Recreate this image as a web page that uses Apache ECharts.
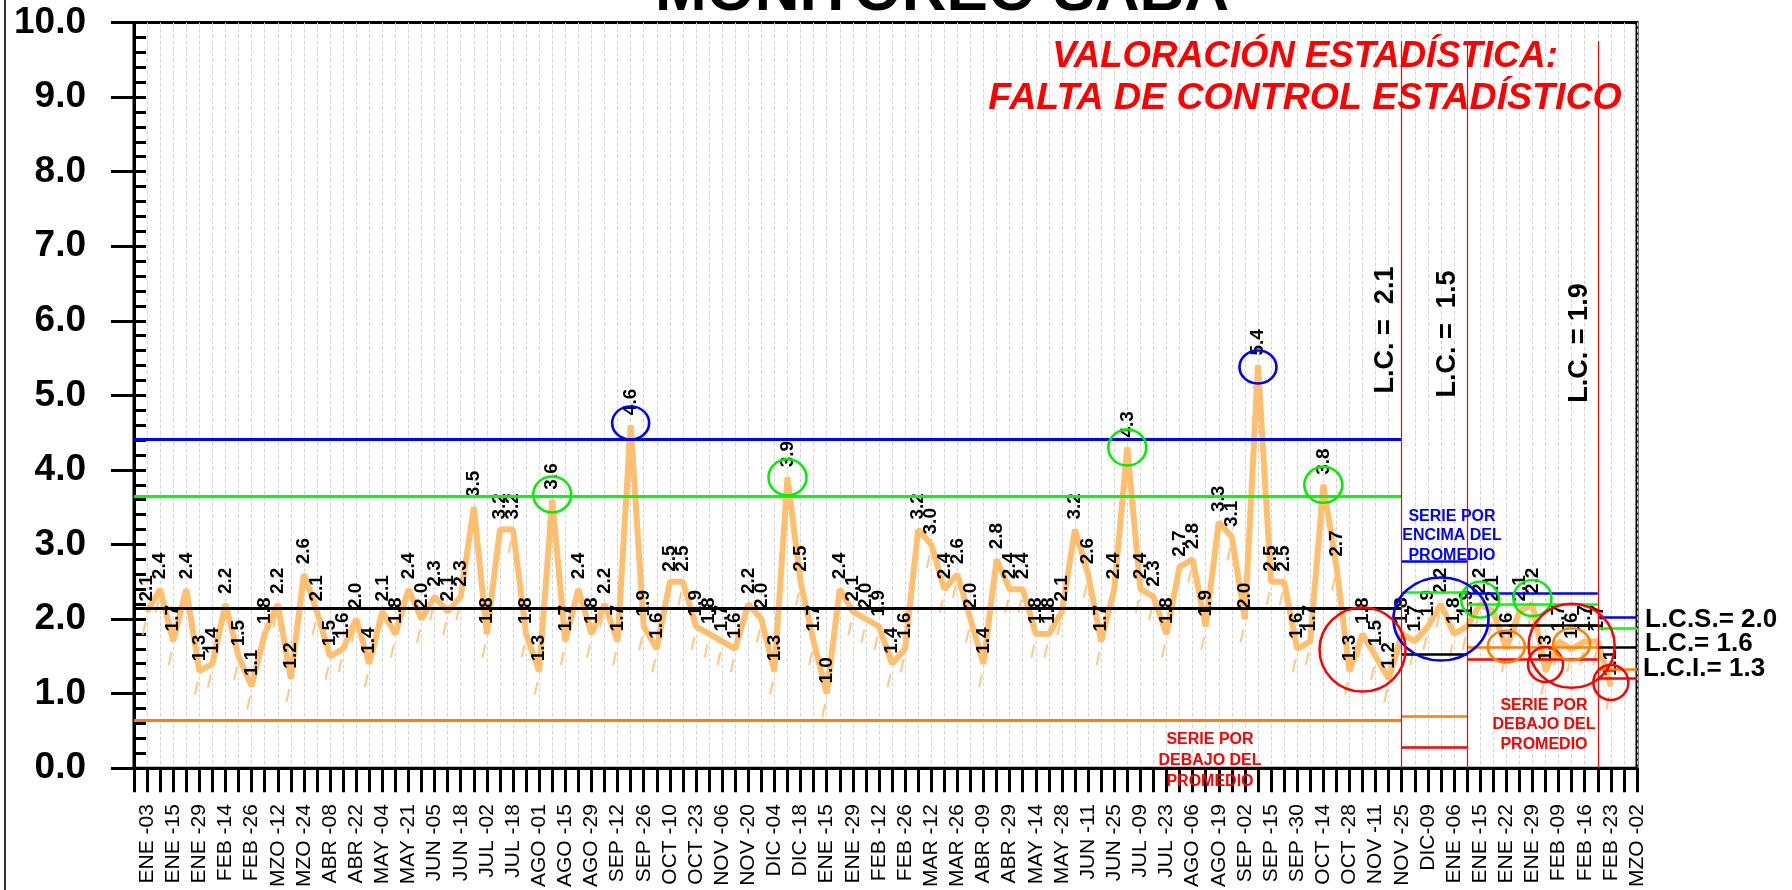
<!DOCTYPE html>
<html>
<head>
<meta charset="utf-8">
<script src="https://cdn.jsdelivr.net/npm/echarts@6/dist/echarts.min.js"></script>
<style>
  html, body { margin: 0; padding: 0; background: #fff; }
  #chart { width: 1792px; height: 890px; }
</style>
</head>
<body>
<div id="chart"></div>
<script>
// etiquetas del eje x (una cada dos semanas)
const categoryLabels = [
  "ENE -03", "ENE -15", "ENE -29", "FEB -14", "FEB -26", "MZO -12", "MZO -24", "ABR -08", "ABR -22", "MAY -04",
  "MAY -21", "JUN -05", "JUN -18", "JUL -02", "JUL -18", "AGO -01", "AGO -15", "AGO -29", "SEP -12", "SEP -26",
  "OCT -10", "OCT -23", "NOV -06", "NOV -20", "DIC -04", "DIC -18", "ENE -15", "ENE -29", "FEB -12", "FEB -26",
  "MAR -12", "MAR -26", "ABR -09", "ABR -29", "MAY -14", "MAY -28", "JUN -11", "JUN -25", "JUL -09", "JUL -23",
  "AGO -06", "AGO -19", "SEP -02", "SEP -15", "SEP -30", "OCT -14", "OCT -28", "NOV -11", "NOV -25", "DIC-09",
  "ENE -06", "ENE -15", "ENE -22", "ENE -29", "FEB -09", "FEB -16", "FEB -23", "MZO -02"
];

// valores semanales
const values = [
  2.1, 2.4, 1.7, 2.4, 1.3, 1.4, 2.2, 1.5, 1.1, 1.8, 2.2, 1.2, 2.6, 2.1, 1.5, 1.6, 2.0, 1.4, 2.1, 1.8,
  2.4, 2.0, 2.3, 2.1, 2.3, 3.5, 1.8, 3.2, 3.2, 1.8, 1.3, 3.6, 1.7, 2.4, 1.8, 2.2, 1.7, 4.6, 1.9, 1.6,
  2.5, 2.5, 1.9, 1.8, 1.7, 1.6, 2.2, 2.0, 1.3, 3.9, 2.5, 1.7, 1.0, 2.4, 2.1, 2.0, 1.9, 1.4, 1.6, 3.2,
  3.0, 2.4, 2.6, 2.0, 1.4, 2.8, 2.4, 2.4, 1.8, 1.8, 2.1, 3.2, 2.6, 1.7, 2.4, 4.3, 2.4, 2.3, 1.8, 2.7,
  2.8, 1.9, 3.3, 3.1, 2.0, 5.4, 2.5, 2.5, 1.6, 1.7, 3.8, 2.7, 1.3, 1.8, 1.5, 1.2, 1.8, 1.7, 1.9, 2.2,
  1.8, 1.9, 2.2, 2.1, 1.6, 2.1, 2.2, 1.3, 1.7, 1.6, 1.7, 1.7, 1.1
];

// limites por etapa (indices de categoria)
const phaseStart = [0, 97, 102, 112];
const phaseEnd = [97, 102, 112, 115];
const lineUCL = [4.41, 2.78, 2.34, 2.02];
const lineUp2 = [3.65, 2.36, 2.20, 1.87];
const lineCenter = [2.14, 1.53, 1.91, 1.62];
const lineLow2 = [0.64, 0.70, 1.62, 1.33];
const lineLCL = [null, 0.28, 1.46, 1.21];
const phaseBreaks = [97, 102, 112];

// circulos de señalamiento: [categoria, valor]
const greenCircles = [[32, 3.67], [50, 3.9], [76, 4.3], [91, 3.8], [102.9, 2.26], [107.3, 2.28]];
const blueCircles = [[38, 4.63], [86, 5.38]];
const blueBigCircles = [[99.7, 2.0]];
const redBigCircles = [[94.3, 1.59], [109.5, 1.64]];
const redCircles = [[108.2, 1.39], [112.7, 1.15]];
const orangeCircles = [[105.1, 1.63], [110.1, 1.66]];

const FONT = '"Liberation Sans", Arial, sans-serif';
const LINE_COLOR = '#FFBF6E';

const categories = [''];
categoryLabels.forEach(function (l, i) {
  categories.push(l);
  if (i < categoryLabels.length - 1) categories.push('');
});
const seriesData = [null].concat(values);

function hLines(levels, color) {
  const out = [];
  levels.forEach(function (v, i) {
    if (v === null) return;
    out.push([
      { coord: [phaseStart[i], v], lineStyle: { color: color, width: i === 0 ? 3 : 2.5, type: 'solid' } },
      { coord: [phaseEnd[i], v] }
    ]);
  });
  return out;
}

const markLines = []
  .concat(hLines(lineUCL, '#0000FF'))
  .concat(hLines(lineUp2, '#00FF00'))
  .concat(hLines(lineCenter, '#000000'))
  .concat(hLines(lineLow2, '#FF8000'))
  .concat(hLines(lineLCL, '#FF0000'));
// separadores rojos entre etapas
phaseBreaks.forEach(function (c) {
  markLines.push([
    { coord: [c, 9.75], lineStyle: { color: '#FF0000', width: 1.2, type: 'solid' } },
    { coord: [c, 0] }
  ]);
});

function circles(list, color, w, h) {
  return list.map(function (p) {
    return {
      coord: p,
      symbolSize: [w, h],
      itemStyle: { color: 'rgba(0,0,0,0)', borderColor: color, borderWidth: 2.5 }
    };
  });
}
const markPoints = []
  .concat(circles(greenCircles, '#00EE00', 38, 36))
  .concat(circles(blueCircles, '#0000FF', 37, 33))
  .concat(circles(blueBigCircles, '#0000FF', 95, 83))
  .concat(circles(redBigCircles, '#FF0000', 86, 84))
  .concat(circles(redCircles, '#FF0000', 35, 35))
  .concat(circles(orangeCircles, '#FF8000', 37, 32));

function txt(text, x, y, size, color, extra) {
  const style = Object.assign({
    text: text, x: 0, y: 0, fill: color, fontSize: size, fontFamily: FONT,
    fontWeight: 'bold', align: 'center', verticalAlign: 'middle'
  }, extra || {});
  return { type: 'text', x: x, y: y, style: style, z: 100 };
}

const chart = echarts.init(document.getElementById('chart'));
const option = {
  animation: false,
  backgroundColor: '#fff',
  grid: {
    left: 134, right: 155, top: 22.5, bottom: 119,
    show: true, borderColor: '#000', borderWidth: 3
  },
  xAxis: {
    type: 'category',
    data: categories,
    boundaryGap: false,
    axisLine: { lineStyle: { color: '#000', width: 3 } },
    axisTick: { show: true, interval: 0, length: 24, lineStyle: { color: '#000', width: 3 } },
    axisLabel: { interval: 0, rotate: 90, fontSize: 21, color: '#000', margin: 36, fontFamily: FONT },
    splitLine: { show: true, interval: 0, lineStyle: { color: '#d4d4d4', type: 'dashed', width: 1 } }
  },
  yAxis: [
    {
      type: 'value', min: 0, max: 10, interval: 1,
      axisLine: { show: true, lineStyle: { color: '#000', width: 3 } },
      axisTick: { show: true, length: 23, lineStyle: { color: '#000', width: 3 } },
      axisLabel: {
        formatter: function (v) { return v.toFixed(1); },
        fontSize: 37, fontWeight: 'bold', color: '#000', margin: 48, fontFamily: FONT
      },
      splitLine: { show: false }
    },
    {
      type: 'value', min: 0, max: 10, interval: 0.2, position: 'left',
      axisLine: { show: false },
      axisTick: { show: true, inside: true, length: 12, lineStyle: { color: '#000', width: 3 } },
      axisLabel: { show: false },
      splitLine: { show: false }
    }
  ],
  series: [
    {
      name: 'marcas',
      type: 'scatter',
      data: seriesData,
      symbol: 'path://M0,12 L2.5,12 L6,0 L3.5,0 Z',
      symbolSize: [5, 13],
      symbolOffset: [-3, 17],
      itemStyle: { color: '#FFB866' },
      z: 1,
      silent: true
    },
    {
      name: 'valor',
      type: 'line',
      data: seriesData,
      symbol: 'circle',
      symbolSize: 2,
      showSymbol: true,
      showAllSymbol: true,
      lineStyle: { color: LINE_COLOR, width: 6 },
      itemStyle: { color: LINE_COLOR },
      z: 3,
      label: {
        show: true, position: 'top', distance: 9, rotate: 90,
        align: 'left', verticalAlign: 'middle',
        fontSize: 19, fontWeight: 'bold', color: '#000', fontFamily: FONT,
        formatter: function (p) { return p.value == null ? '' : Number(p.value).toFixed(1); }
      },
      markLine: {
        silent: true, symbol: ['none', 'none'], label: { show: false },
        data: markLines, z: 4
      },
      markPoint: {
        silent: true, symbol: 'circle', label: { show: false },
        data: markPoints, z: 5
      }
    }
  ],
  graphic: [
    { type: 'line', shape: { x1: 5, y1: 0, x2: 5, y2: 890 }, style: { stroke: '#333', lineWidth: 2 } },
    txt('MONITOREO SABA', 942, -7, 62, '#000'),
    txt('VALORACIÓN ESTADÍSTICA:', 1305, 57, 36.5, '#FF0000', { fontStyle: 'italic' }),
    txt('FALTA DE CONTROL ESTADÍSTICO', 1305, 99, 37.5, '#FF0000', { fontStyle: 'italic' }),
    Object.assign(txt('L.C. =  2.1', 1386, 330, 27, '#000'), { rotation: Math.PI / 2 }),
    Object.assign(txt('L.C. =  1.5', 1448, 334, 27, '#000'), { rotation: Math.PI / 2 }),
    Object.assign(txt('L.C. = 1.9', 1580, 343, 27, '#000'), { rotation: Math.PI / 2 }),
    txt('SERIE POR\nENCIMA DEL\nPROMEDIO', 1452, 536, 16, '#0000FF', { lineHeight: 19.5 }),
    txt('SERIE POR\nDEBAJO DEL\nPROMEDIO', 1544, 725, 16, '#FF0000', { lineHeight: 19.7 }),
    txt('SERIE POR\nDEBAJO DEL\nPROMEDIO', 1210, 761, 16, '#FF0000', { lineHeight: 21 }),
    txt('L.C.S.= 2.0', 1645, 620, 26, '#000', { align: 'left' }),
    txt('L.C.= 1.6', 1645, 644, 26, '#000', { align: 'left' }),
    txt('L.C.I.= 1.3', 1643, 669, 26, '#000', { align: 'left' })
  ]
};
chart.setOption(option);
</script>
</body>
</html>
